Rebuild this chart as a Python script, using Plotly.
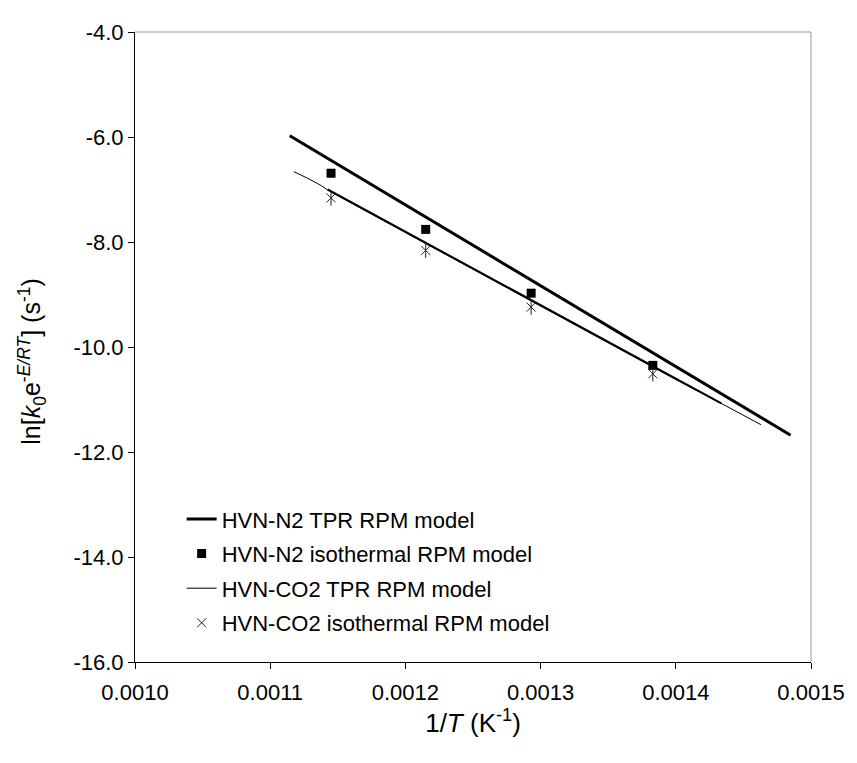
import plotly.graph_objects as go

# Data
# HVN-N2 TPR RPM model (thick line)
n2_tpr_x = [0.0011145, 0.0012, 0.0013, 0.0014, 0.0014849]
n2_tpr_y = [-5.975, -7.29, -8.83, -10.37, -11.68]
# HVN-N2 isothermal RPM model (squares)
n2_iso_x = [0.001145, 0.001215, 0.001293, 0.001383]
n2_iso_y = [-6.69, -7.76, -8.975, -10.35]
# HVN-CO2 TPR RPM model (thin line)
co2_tpr_x = [0.0011175, 0.001128, 0.001138, 0.0011425, 0.0012, 0.0013, 0.0014, 0.0014337, 0.001463]
co2_tpr_y = [-6.66, -6.79, -6.93, -7.01, -7.82, -9.22, -10.62, -11.075, -11.48]
# straight part drawn over the thin line
co2_fit_x = [0.0011425, 0.0014337]
co2_fit_y = [-7.00, -11.075]
# HVN-CO2 isothermal RPM model (stars)
co2_iso_x = [0.001145, 0.001215, 0.001293, 0.001383]
co2_iso_y = [-7.16, -8.16, -9.24, -10.51]

# tick labels (hyphen minus as in the original)
y_ticks = [-16, -14, -12, -10, -8, -6, -4]
y_labels = ['-16.0', '-14.0', '-12.0', '-10.0', '-8.0', '-6.0', '-4.0']
x_ticks = [0.0010, 0.0011, 0.0012, 0.0013, 0.0014, 0.0015]
x_labels = ['0.0010', '0.0011', '0.0012', '0.0013', '0.0014', '0.0015']

fig = go.Figure()

fig.add_trace(go.Scatter(x=n2_tpr_x, y=n2_tpr_y, mode='lines', line=dict(color='black', width=3),
                         name='HVN-N2 TPR RPM model', legendgroup='a'))
fig.add_trace(go.Scatter(x=n2_iso_x, y=n2_iso_y, mode='markers',
                         marker=dict(symbol='square', color='black', size=9),
                         name='HVN-N2 isothermal RPM model', legendgroup='b'))
fig.add_trace(go.Scatter(x=co2_tpr_x, y=co2_tpr_y, mode='lines', line=dict(color='black', width=1),
                         name='HVN-CO2 TPR RPM model', legendgroup='c'))
fig.add_trace(go.Scatter(x=co2_fit_x, y=co2_fit_y, mode='lines', line=dict(color='black', width=2),
                         showlegend=False, hoverinfo='skip'))
fig.add_trace(go.Scatter(x=co2_iso_x, y=co2_iso_y, mode='markers',
                         marker=dict(symbol='x-thin-open', color='#222222', size=9, line=dict(width=1, color='#222222')),
                         name='HVN-CO2 isothermal RPM model', legendgroup='d'))
fig.add_trace(go.Scatter(x=co2_iso_x, y=co2_iso_y, mode='markers',
                         marker=dict(symbol='line-ns-open', color='#222222', size=11, line=dict(width=1, color='#222222')),
                         showlegend=False, hoverinfo='skip'))

# Axes
fig.update_xaxes(title_text='1/<i>T</i> (K<sup>-1</sup>)', range=[0.0010, 0.0015],
                 tickvals=x_ticks, ticktext=x_labels, showgrid=False, zeroline=False, showline=True,
                 linecolor='black', linewidth=1, ticks='outside', ticklen=6, tickcolor='black',
                 ticklabelstandoff=5, title_standoff=8)
fig.update_yaxes(range=[-16, -4], tickvals=y_ticks, ticktext=y_labels, showgrid=False, zeroline=False,
                 showline=True, linecolor='black', linewidth=1, ticks='outside', ticklen=6,
                 tickcolor='black')

# y title as an annotation (sits a bit below the middle in the original)
fig.add_annotation(text='ln[<i>k</i><sub>0</sub>e<sup>-<i>E/RT</i></sup>] (s<sup>-1</sup>)',
                   xref='paper', yref='paper', x=-0.152, y=0.477, xanchor='center', yanchor='middle',
                   textangle=-90, showarrow=False, font=dict(size=25))

# gray top / right frame
fig.add_shape(type='line', xref='paper', yref='paper', x0=0, x1=1, y0=1, y1=1, line=dict(color='#999999', width=1))
fig.add_shape(type='line', xref='paper', yref='paper', x0=1, x1=1, y0=0, y1=1, line=dict(color='#999999', width=1))

# page body has an 8px margin, so the figure is 8px smaller than the window
fig.update_layout(width=849, height=755, plot_bgcolor='white', paper_bgcolor='white',
                  margin=dict(l=127, r=38, t=14, b=101),
                  font=dict(family='Liberation Sans, Arial', size=22, color='black'),
                  legend=dict(x=0.069, y=0.26, xanchor='left', yanchor='top', bgcolor='rgba(0,0,0,0)',
                              tracegroupgap=3, traceorder='grouped', font=dict(size=22)),
                  showlegend=True)

fig.write_html("out.html")
